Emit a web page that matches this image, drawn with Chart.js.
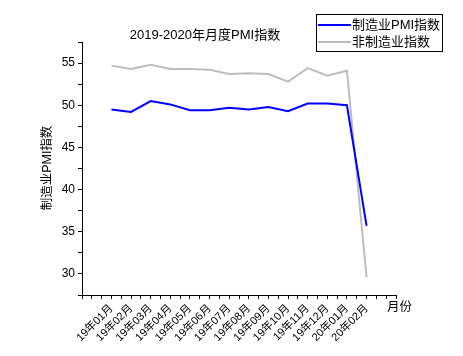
<!DOCTYPE html>
<html>
<head>
<meta charset="utf-8">
<script src="https://cdn.jsdelivr.net/npm/chart.js@4/dist/chart.umd.min.js"></script>
<style>
html,body{margin:0;padding:0;background:#fff;}
#wrap{width:463px;height:356px;position:relative;}
</style>
</head>
<body>
<div id="wrap"><canvas id="c" width="463" height="356"></canvas></div>
<script>
const categories = ['19年01月','19年02月','19年03月','19年04月','19年05月','19年06月','19年07月','19年08月','19年09月','19年10月','19年11月','19年12月','20年01月','20年02月'];
const manufacturing = [49.5,49.2,50.5,50.1,49.4,49.4,49.7,49.5,49.8,49.3,50.2,50.2,50.0,35.7];
const nonManufacturing = [54.7,54.3,54.8,54.3,54.3,54.2,53.7,53.8,53.7,52.8,54.4,53.5,54.1,29.6];
const seriesNames = ['制造业PMI指数','非制造业指数'];
const chartTitle = '2019-2020年月度PMI指数';
const yTitle = '制造业PMI指数';
const xTitle = '月份';

const FONT = "'Liberation Sans','Noto Sans CJK SC',sans-serif";

const toPts = arr => arr.map((v,i)=>({x:i,y:v}));

const overlay = {
  id:'overlay',
  afterDraw(chart){
    const ctx = chart.ctx;
    ctx.save();
    ctx.fillStyle = '#000';
    ctx.font = '13px ' + FONT;
    ctx.textAlign = 'center';
    ctx.textBaseline = 'middle';
    ctx.fillText(chartTitle, 205, 35);
    // y title
    ctx.save();
    ctx.translate(48, 168);
    ctx.rotate(-Math.PI/2);
    ctx.font = '12.5px ' + FONT;
    ctx.fillText(yTitle, 0, 0);
    ctx.restore();
    // x title
    ctx.textAlign = 'left';
    ctx.font = '12.5px ' + FONT;
    ctx.fillText(xTitle, 387, 308);
    // legend
    ctx.strokeStyle = '#000';
    ctx.lineWidth = 1;
    ctx.strokeRect(316.5, 14.5, 126, 37);
    const cols = ['#0000FF','#BDBDBD'];
    const ys = [25, 42];
    ctx.font = '13px ' + FONT;
    for (let i=0;i<2;i++){
      ctx.strokeStyle = cols[i];
      ctx.lineWidth = 2;
      ctx.beginPath();
      ctx.moveTo(318, ys[i]);
      ctx.lineTo(351, ys[i]);
      ctx.stroke();
      ctx.fillStyle = '#000';
      ctx.fillText(seriesNames[i], 352, ys[i]);
    }
    ctx.restore();
  }
};

new Chart(document.getElementById('c'), {
  type:'line',
  data:{
    datasets:[
      {label:seriesNames[0], data:toPts(manufacturing), borderColor:'#0000FF', borderWidth:2, pointRadius:0, tension:0, fill:false},
      {label:seriesNames[1], data:toPts(nonManufacturing), borderColor:'#BDBDBD', borderWidth:2, pointRadius:0, tension:0, fill:false}
    ]
  },
  options:{
    responsive:false,
    animation:false,
    devicePixelRatio:1,
    layout:{padding:{left:0,right:67,top:42,bottom:0}},
    plugins:{legend:{display:false},title:{display:false},tooltip:{enabled:false}},
    scales:{
      x:{
        type:'linear',
        min:-1.5,max:14.5,
        afterFit(s){s.height=61;},
        afterBuildTicks(s){
          const t=[];for(let v=-1.5;v<=14.5001;v+=0.5){t.push({value:Math.round(v*10)/10});}
          s.ticks=t;
        },
        border:{display:true,color:'#000',width:1},
        grid:{drawOnChartArea:false,drawTicks:true,tickLength:4,color:'#000',tickColor:'#000'},
        ticks:{
          autoSkip:false,
          maxRotation:45,minRotation:45,
          color:'#000',
          font:{family:FONT,size:11},
          padding:3,
          callback(v){
            if (Number.isInteger(v) && v>=0 && v<categories.length) return categories[v];
            return '';
          }
        }
      },
      y:{
        min:27.5,max:57.5,
        afterFit(s){s.width=82;},
        afterBuildTicks(s){
          const t=[];for(let v=27.5;v<=57.5001;v+=2.5){t.push({value:v});}
          s.ticks=t;
        },
        border:{display:true,color:'#000',width:1},
        grid:{drawOnChartArea:false,drawTicks:true,tickLength:4,color:'#000',tickColor:'#000'},
        ticks:{
          autoSkip:false,
          color:'#000',
          font:{family:FONT,size:12},
          padding:3,
          callback(v){ return (v%5===0)? String(v) : ''; }
        }
      }
    }
  },
  plugins:[overlay]
});
</script>
</body>
</html>
